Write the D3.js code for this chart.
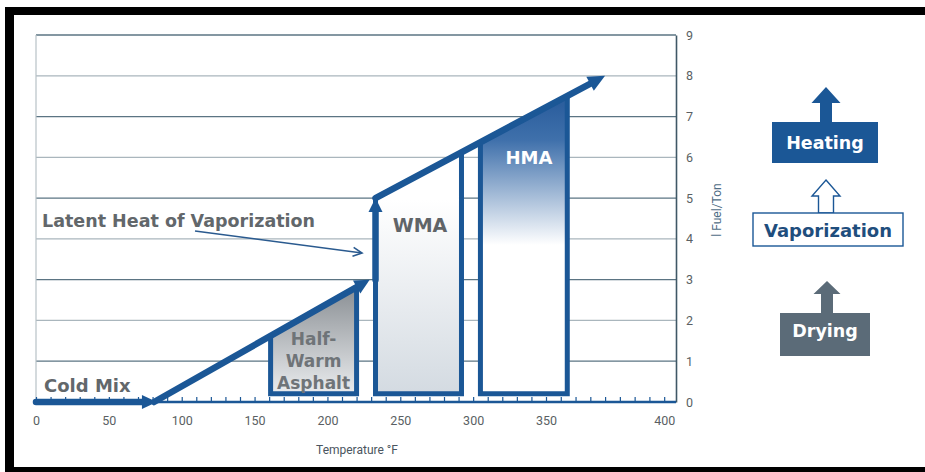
<!DOCTYPE html>
<html>
<head>
<meta charset="utf-8">
<script src="https://cdn.jsdelivr.net/npm/d3@7"></script>
<style>
  body { margin: 0; background: #fff; }
  svg { display: block; }
</style>
</head>
<body>
<svg id="chart" width="925" height="472"></svg>
<script>
// ---- data ----
const xTicks = [0, 50, 100, 150, 200, 250, 300, 350, 400];
const yTicks = [0, 1, 2, 3, 4, 5, 6, 7, 8, 9];
// small ruler ticks along the temperature axis (the last span is stretched)
const minorTicks = d3.range(0, 350, 10).concat(d3.range(350, 406, 6.25));

// energy path: [temperature °F, fuel l/ton]
const coldMix      = [[0, 0], [83, 0]];
const dryingRise   = [[81, 0], [229, 3]];
const vaporJump    = [[233, 3], [233, 5]];
const heatingRise  = [[233, 5], [375, 8]];

// production temperature zones
const zoneNames = ["Half-Warm Asphalt", "WMA", "HMA"];
const zoneStart = [161, 233, 305];
const zoneEnd   = [220, 292, 359];
const zoneBase  = 0.2;

const legendLabels = ["Heating", "Vaporization", "Drying"];

// ---- setup ----
const W = 925, H = 472;
const BLUE = "#1b5796", GREY_TXT = "#62676b";
const svg = d3.select("#chart");
const defs = svg.append("defs");

const x = d3.scaleLinear().domain([0, 350, 405]).range([36, 546, 676]);
const y = d3.scaleLinear().domain([0, 9]).range([402, 35]);
const px = d => [x(d[0]), y(d[1])];

svg.append("rect").attr("width", W).attr("height", H).attr("fill", "#fff");

// black frame (top, left, bottom)
const frame = svg.append("g").attr("fill", "#000");
frame.append("rect").attr("x", 5).attr("y", 7).attr("width", W - 5).attr("height", 8);
frame.append("rect").attr("x", 5).attr("y", 7).attr("width", 9).attr("height", H - 7);
frame.append("rect").attr("x", 5).attr("y", 467).attr("width", W - 5).attr("height", 5);

// ---- grid ----
const grid = svg.append("g");
grid.selectAll("line.h")
  .data(yTicks.filter(v => v > 0))
  .join("line")
  .attr("x1", x(0)).attr("x2", x(405))
  .attr("y1", d => y(d)).attr("y2", d => y(d))
  .attr("stroke", d => (d % 2 === 1) ? "#5b7483" : "#aab6bd")
  .attr("stroke-width", d => (d % 2 === 1) ? 1.3 : 1.2);
grid.append("line")
  .attr("x1", x(0)).attr("x2", x(0)).attr("y1", y(9)).attr("y2", y(0))
  .attr("stroke", "#b7c1c7").attr("stroke-width", 1.2);

// right value axis
const yAxis = svg.append("g")
  .attr("transform", `translate(${x(405)},0)`)
  .call(d3.axisRight(y).tickValues(yTicks).tickSize(0).tickPadding(10));
yAxis.select(".domain").attr("stroke", "#3f5866").attr("stroke-width", 1.6);
yAxis.selectAll("text")
  .attr("font-family", "Roboto, sans-serif").attr("font-size", 12.5)
  .attr("fill", "#5a5f63");

svg.append("text")
  .attr("transform", `translate(${721},${210}) rotate(-90)`)
  .attr("text-anchor", "middle")
  .attr("font-family", "Roboto, sans-serif").attr("font-size", 12)
  .attr("fill", "#4f6d85")
  .text("l Fuel/Ton");

// bottom temperature axis
const xAxis = svg.append("g")
  .attr("transform", `translate(0,${y(0)})`)
  .call(d3.axisBottom(x).tickValues(xTicks).tickSize(0).tickPadding(14));
xAxis.select(".domain").remove();
xAxis.selectAll("text")
  .attr("font-family", "Roboto, sans-serif").attr("font-size", 12.5)
  .attr("fill", "#5a5f63");

svg.append("g")
  .attr("transform", `translate(0,${y(0)})`)
  .call(d3.axisTop(x).tickValues(minorTicks).tickSize(5).tickFormat(""))
  .call(g => g.select(".domain").remove())
  .selectAll("line").attr("stroke", BLUE).attr("stroke-width", 1.2);

svg.append("line")
  .attr("x1", x(0)).attr("x2", x(405))
  .attr("y1", y(0)).attr("y2", y(0))
  .attr("stroke", BLUE).attr("stroke-width", 2.5);

svg.append("text")
  .attr("x", 357).attr("y", 454)
  .attr("text-anchor", "middle")
  .attr("font-family", "Roboto, sans-serif").attr("font-size", 12)
  .attr("fill", "#4a5560")
  .text("Temperature °F");

// ---- zones ----
function gradient(id, stops, y1, y2) {
  const g = defs.append("linearGradient").attr("id", id)
    .attr("gradientUnits", "userSpaceOnUse")
    .attr("x1", 0).attr("x2", 0).attr("y1", y1).attr("y2", y2);
  stops.forEach(s => g.append("stop").attr("offset", s[0]).attr("stop-color", s[1]));
}
gradient("gHalf", [[0, "#8c9196"], [1, "#eceef0"]], 290, 396);
gradient("gWma",  [[0, "#ffffff"], [1, "#d3dae1"]], 200, 396);
gradient("gHma",  [[0, "#2c5f9e"], [0.25, "#3f70ab"], [1, "#ffffff"]], 105, 245);

// y pixel on a path segment at a given temperature
function yOnSegment(seg, t) {
  const [a, b] = seg.map(px);
  const xx = x(t);
  return a[1] + (b[1] - a[1]) * (xx - a[0]) / (b[0] - a[0]);
}
const zoneSeg = [dryingRise, heatingRise, heatingRise];
const zoneFill = ["url(#gHalf)", "url(#gWma)", "url(#gHma)"];

const zones = svg.append("g");
zoneNames.forEach((name, i) => {
  const x0 = x(zoneStart[i]), x1 = x(zoneEnd[i]);
  const yb = y(zoneBase);
  const pts = [
    [x0, yb], [x0, yOnSegment(zoneSeg[i], zoneStart[i])],
    [x1, yOnSegment(zoneSeg[i], zoneEnd[i])], [x1, yb]
  ];
  zones.append("path")
    .attr("d", d3.line()(pts) + "Z")
    .attr("fill", zoneFill[i])
    .attr("stroke", BLUE).attr("stroke-width", 5)
    .attr("stroke-linejoin", "miter");
});

// zone labels
const lbl = svg.append("g").attr("font-family", "'DejaVu Sans', sans-serif")
  .attr("font-weight", "bold").attr("text-anchor", "middle");
const halfLines = ["Half-", "Warm", "Asphalt"];
lbl.append("text")
  .attr("x", (x(zoneStart[0]) + x(zoneEnd[0])) / 2).attr("y", 345)
  .attr("font-size", 17).attr("fill", "#6f7478")
  .selectAll("tspan").data(halfLines).join("tspan")
  .attr("x", (x(zoneStart[0]) + x(zoneEnd[0])) / 2)
  .attr("dy", (d, i) => i === 0 ? 0 : 22)
  .text(d => d);
lbl.append("text")
  .attr("x", 420).attr("y", 232)
  .attr("font-size", 19).attr("fill", "#606468")
  .text(zoneNames[1]);
lbl.append("text")
  .attr("x", 529).attr("y", 164)
  .attr("font-size", 18).attr("fill", "#ffffff")
  .text(zoneNames[2]);

// ---- thick energy path with arrowheads ----
function bigArrow(seg, headLen, headHalf) {
  const [a, b] = seg.map(px);
  const dx = b[0] - a[0], dy = b[1] - a[1];
  const L = Math.hypot(dx, dy), ux = dx / L, uy = dy / L;
  const base = [b[0] - ux * headLen, b[1] - uy * headLen];
  svg.append("line")
    .attr("x1", a[0]).attr("y1", a[1])
    .attr("x2", base[0] + ux * 2).attr("y2", base[1] + uy * 2)
    .attr("stroke", BLUE).attr("stroke-width", 6.5).attr("stroke-linecap", "round");
  const nx = -uy, ny = ux;
  svg.append("path")
    .attr("d", d3.line()([
      b,
      [base[0] + nx * headHalf, base[1] + ny * headHalf],
      [base[0] - nx * headHalf, base[1] - ny * headHalf]
    ]) + "Z")
    .attr("fill", BLUE);
}
bigArrow(coldMix, 15, 7);
bigArrow(dryingRise, 15, 7.5);
bigArrow(vaporJump, 14, 7);
bigArrow(heatingRise, 17, 8);

// annotation labels
const ann = svg.append("g").attr("font-family", "'DejaVu Sans', sans-serif")
  .attr("font-weight", "bold").attr("fill", GREY_TXT);
ann.append("text").attr("x", 44).attr("y", 392).attr("font-size", 18).text("Cold Mix");
ann.append("text").attr("x", 42).attr("y", 227).attr("font-size", 17.5)
  .text("Latent Heat of Vaporization");

// thin pointer arrow
const pStart = [195, 231], pEnd = [362, 253];
svg.append("line")
  .attr("x1", pStart[0]).attr("y1", pStart[1]).attr("x2", pEnd[0]).attr("y2", pEnd[1])
  .attr("stroke", "#2a5a8f").attr("stroke-width", 1.6);
{
  const dx = pEnd[0] - pStart[0], dy = pEnd[1] - pStart[1];
  const L = Math.hypot(dx, dy), ux = dx / L, uy = dy / L, nx = -uy, ny = ux;
  const b = [pEnd[0] - ux * 9, pEnd[1] - uy * 9];
  svg.append("path")
    .attr("d", d3.line()([[b[0] + nx * 4.5, b[1] + ny * 4.5], pEnd, [b[0] - nx * 4.5, b[1] - ny * 4.5]]))
    .attr("fill", "none").attr("stroke", "#2a5a8f").attr("stroke-width", 1.6);
}

// ---- legend ----
const legendStyle = [
  { box: [772, 122, 106, 41], fill: BLUE, stroke: "none", text: "#ffffff", base: 149, size: 17.5,
    arrow: { cx: 826, tip: 87, head: 103, hh: 14.5, sh: 6, fill: BLUE, stroke: "none" } },
  { box: [753, 213, 150, 33], fill: "#ffffff", stroke: BLUE, text: "#1f4e7d", base: 237, size: 18,
    arrow: { cx: 826, tip: 180, head: 196, hh: 14, sh: 7.5, fill: "#ffffff", stroke: BLUE } },
  { box: [780, 313, 90, 43], fill: "#5b6b78", stroke: "none", text: "#ffffff", base: 337, size: 17.5,
    arrow: { cx: 827, tip: 281, head: 294, hh: 13.5, sh: 6, fill: "#5b6b78", stroke: "none" } }
];
const legend = svg.append("g");
legendLabels.forEach((label, i) => {
  const s = legendStyle[i], a = s.arrow;
  const [bx, by, bw, bh] = s.box;
  legend.append("path")
    .attr("d", d3.line()([
      [a.cx, a.tip], [a.cx + a.hh, a.head], [a.cx + a.sh, a.head], [a.cx + a.sh, by],
      [a.cx - a.sh, by], [a.cx - a.sh, a.head], [a.cx - a.hh, a.head]
    ]) + "Z")
    .attr("fill", a.fill).attr("stroke", a.stroke).attr("stroke-width", 1.4);
  legend.append("rect")
    .attr("x", bx).attr("y", by).attr("width", bw).attr("height", bh)
    .attr("fill", s.fill).attr("stroke", s.stroke).attr("stroke-width", 1.4);
  legend.append("text")
    .attr("x", bx + bw / 2).attr("y", s.base)
    .attr("text-anchor", "middle")
    .attr("font-family", "'DejaVu Sans', sans-serif").attr("font-weight", "bold")
    .attr("font-size", s.size).attr("fill", s.text)
    .text(label);
});
</script>
</body>
</html>
